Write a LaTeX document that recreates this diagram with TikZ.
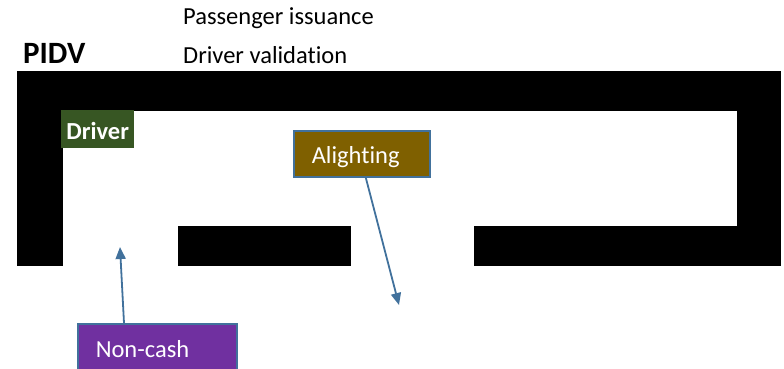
\documentclass[tikz,border=0pt]{standalone}
\usepackage{fontspec}
\setmainfont{Carlito}[Ligatures=NoCommon]
\usetikzlibrary{arrows.meta}
\definecolor{drvgreen}{HTML}{375623}
\definecolor{aligold}{HTML}{7F6000}
\definecolor{ncpurple}{HTML}{7030A0}
\definecolor{edgeblue}{HTML}{41719C}
\tikzset{
  plain/.style={anchor=base west, inner sep=0pt, font=\fontsize{24.5}{29}\selectfont},
  colorbox/.style={anchor=north west, text=white, draw=edgeblue, line width=1.5pt,
    inner xsep=18pt, inner ysep=0pt, align=left, text height=20pt, text depth=0pt,
    font=\fontsize{24.5}{29}\selectfont},
  wall/.style={fill=black, draw=none},
  link/.style={draw=edgeblue, line width=1.8pt, -{Triangle[length=12pt,width=10pt]}}
}
\begin{document}
\begin{tikzpicture}[x=1pt,y=-1pt]
\useasboundingbox (0,0) rectangle (784,368);
\clip (0,0) rectangle (784,368);
% walls
\fill[wall] (17,71) rectangle (781,111);
\fill[wall] (17,71) rectangle (63,266);
\fill[wall] (737,71) rectangle (781,266);
\fill[wall] (474,226) rectangle (781,266);
\fill[wall] (178,226) rectangle (351,266);
% texts
\node[plain] (pass) at (183,24) {Passenger issuance};
\node[plain] (dval) at (183,63) {Driver validation};
\node[anchor=base west, inner sep=0pt, font=\fontsize{31}{37}\selectfont\bfseries] (pidv) at (23,63) {PIDV};
% boxes
\node[anchor=north west, fill=drvgreen, text=white, minimum width=73pt, minimum height=38pt,
  inner sep=0pt, text height=20pt, text depth=0pt, font=\fontsize{24.5}{29}\selectfont\bfseries] (drv) at (61,110) {Driver};
\node[colorbox, fill=aligold, text width=100pt, minimum height=46pt] (ali) at (293,130) {Alighting};
\node[colorbox, fill=ncpurple, text width=123pt, minimum height=48pt] (nc) at (77,323) {Non-cash};
% arrows
\coordinate (alitip) at (399,305);
\coordinate (nctip) at (120,247);
\draw[link] ([xshift=4pt]ali.south) -- (alitip);
\draw[link] ([xshift=47pt]nc.north west) -- (nctip);
\end{tikzpicture}
\end{document}
